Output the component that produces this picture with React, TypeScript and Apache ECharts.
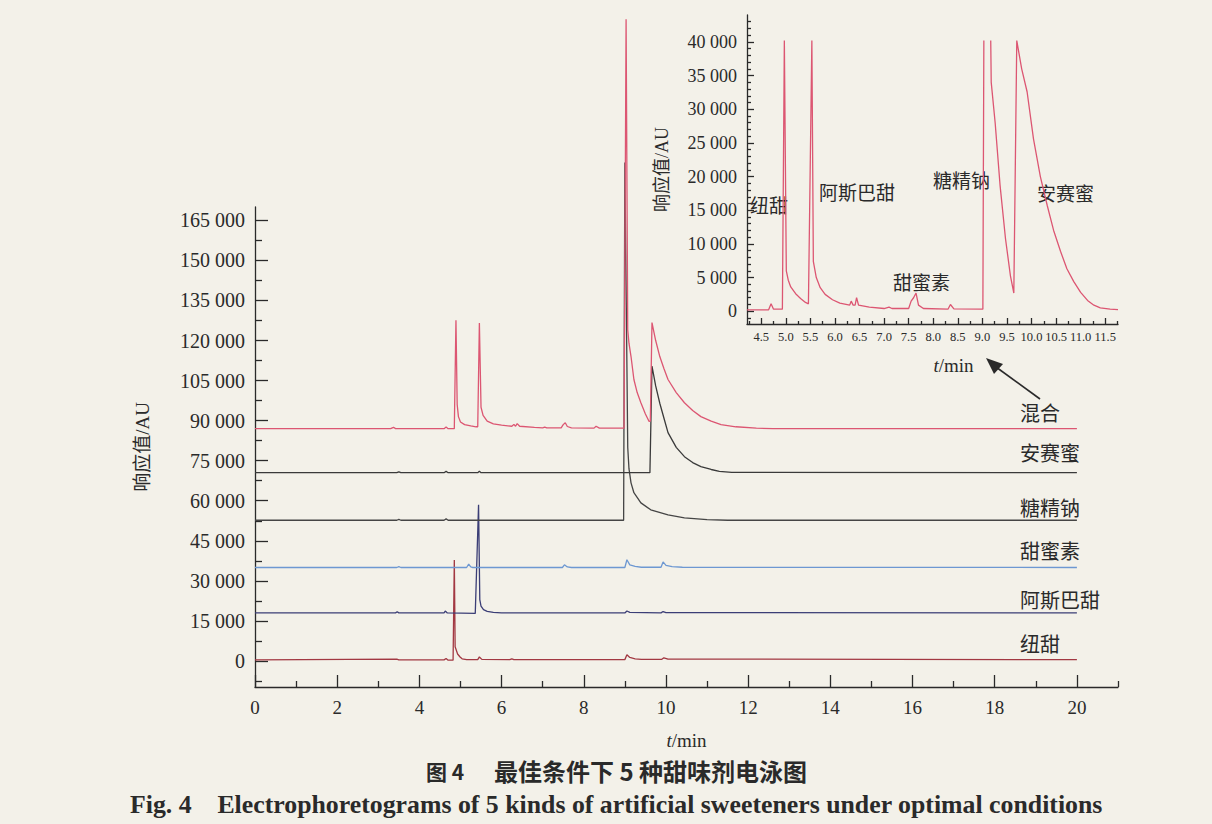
import React, { useEffect, useRef } from 'react';
import * as echarts from 'echarts';

// ---------- tick labels ----------
const mainXLabels = [0, 2, 4, 6, 8, 10, 12, 14, 16, 18, 20];
const mainXMinor = [1, 3, 5, 7, 9, 11, 13, 15, 17, 19, 21];
const mainYLabels = [0, 15000, 30000, 45000, 60000, 75000, 90000, 105000, 120000, 135000, 150000, 165000];
const mainYMinor = [-7500, 7500, 22500, 37500, 52500, 67500, 82500, 97500, 112500, 127500, 142500, 157500];
const insetXLabels = [4.5, 5, 5.5, 6, 6.5, 7, 7.5, 8, 8.5, 9, 9.5, 10, 10.5, 11, 11.5];
const insetXMinor = [4.25, 4.75, 5.25, 5.75, 6.25, 6.75, 7.25, 7.75, 8.25, 8.75, 9.25, 9.75, 10.25, 10.75, 11.25, 11.75];
const insetYLabels = [0, 5000, 10000, 15000, 20000, 25000, 30000, 35000, 40000];
const insetYMinor = [-1000, 1000, 2000, 3000, 4000, 6000, 7000, 8000, 9000, 11000, 12000, 13000, 14000, 16000, 17000, 18000, 19000, 21000, 22000, 23000, 24000, 26000, 27000, 28000, 29000, 31000, 32000, 33000, 34000, 36000, 37000, 38000, 39000, 41000, 42000, 43000];

// ---------- series names ----------
const seriesNames = ['纽甜', '阿斯巴甜', '甜蜜素', '糖精钠', '安赛蜜', '混合'];

// ---------- main electropherograms: [t/min, response/AU] ----------
const neotame = [
  [0, 400], [3.45, 700], [3.5, 400], [4.6, 400], [4.65, 900], [4.7, 300], [4.82, 300],
  [4.85, 37800], [4.87, 5300], [4.93, 2600], [4.99, 1500], [5.04, 800], [5.15, 500],
  [5.42, 500], [5.46, 1500], [5.52, 600], [6.2, 500], [6.25, 800], [6.3, 500],
  [9.0, 500], [9.05, 2300], [9.12, 1300], [9.25, 800], [9.4, 600], [9.9, 600],
  [9.95, 1200], [10.05, 700], [20, 500],
];
const aspartame = [
  [0, 18000], [3.42, 18000], [3.46, 18400], [3.5, 18000], [4.6, 18000], [4.63, 18700],
  [4.68, 18000], [5.36, 17800], [5.44, 58500], [5.47, 23000], [5.5, 20500], [5.56, 19200],
  [5.65, 18600], [5.8, 18200], [6.0, 18000], [9.0, 18000], [9.05, 18700], [9.12, 18200],
  [9.88, 18000], [9.93, 18500], [10.0, 18100], [20, 18000],
];
const cyclamate = [
  [0, 35000], [3.45, 35000], [3.5, 35300], [3.55, 35000], [5.15, 35000], [5.2, 36300],
  [5.25, 35200], [5.3, 35000], [7.48, 35000], [7.53, 36000], [7.6, 35200], [7.7, 35000],
  [9.0, 35000], [9.05, 37900], [9.12, 36000], [9.25, 35400], [9.4, 35100], [9.88, 35100],
  [9.93, 37100], [10.0, 35800], [10.15, 35300], [10.4, 35100], [20, 35000],
];
const saccharin = [
  [0, 52700], [3.45, 52700], [3.5, 53000], [3.55, 52700], [4.6, 52700], [4.65, 53200],
  [4.7, 52700], [8.97, 52700], [9.0, 186700], [9.07, 80000], [9.1, 72000], [9.15, 66700],
  [9.22, 63000], [9.39, 59200], [9.63, 56600], [10.05, 54700], [10.45, 53600], [11.0, 52900],
  [11.5, 52700], [20, 52700],
];
const acesulfame = [
  [0, 70500], [3.45, 70500], [3.5, 70800], [3.55, 70500], [4.6, 70500], [4.65, 71000],
  [4.7, 70500], [5.42, 70500], [5.46, 71000], [5.5, 70500], [9.61, 70500], [9.66, 110400],
  [9.75, 103000], [9.85, 96500], [9.95, 91000], [10.05, 85500], [10.25, 80000], [10.45, 76500],
  [10.65, 74300], [10.85, 72800], [11.1, 71700], [11.3, 71000], [11.6, 70600], [20, 70500],
];
const mixture = [
  [0, 87000], [3.3, 87000], [3.37, 87500], [3.42, 87000], [4.6, 87000], [4.65, 87600],
  [4.7, 87000], [4.85, 87000], [4.89, 127600], [4.92, 96000], [4.95, 91500], [5.0, 89500],
  [5.1, 88500], [5.25, 88000], [5.38, 87700], [5.42, 87700], [5.46, 126600], [5.5, 95000],
  [5.55, 92000], [5.65, 89800], [5.8, 88800], [6.0, 88300], [6.25, 87900], [6.3, 88600],
  [6.34, 87900], [6.38, 88900], [6.44, 87900], [6.8, 87500], [7.0, 87300], [7.05, 87600],
  [7.1, 87300], [7.45, 87300], [7.5, 88500], [7.55, 89200], [7.6, 87800], [7.7, 87300],
  [8.25, 87200], [8.3, 87900], [8.38, 87200], [8.98, 87200], [9.03, 240300], [9.07, 124000],
  [9.1, 119000], [9.15, 114000], [9.22, 105400], [9.3, 100500], [9.39, 96700], [9.5, 92500],
  [9.59, 89700], [9.62, 89800], [9.66, 126700], [9.75, 120000], [9.85, 114000], [9.95, 109500],
  [10.05, 105400], [10.25, 100500], [10.45, 96700], [10.65, 93800], [10.85, 91500],
  [11.1, 89800], [11.34, 88500], [11.7, 87700], [12.2, 87200], [12.6, 87000], [20, 87000],
];

// ---------- inset (mixture, zoomed) ----------
const insetMixture = [
  [4.21, 200], [4.65, 200], [4.7, 1100], [4.75, 300], [4.93, 300], [4.97, 40200],
  [5.01, 6000], [5.05, 4600], [5.1, 3600], [5.2, 2600], [5.3, 1900], [5.4, 1300],
  [5.46, 1100], [5.53, 40200], [5.56, 7400], [5.62, 5000], [5.7, 3500], [5.8, 2500],
  [5.95, 1700], [6.1, 1200], [6.3, 900], [6.33, 1500], [6.37, 900], [6.41, 900],
  [6.44, 2000], [6.48, 900], [6.7, 600], [7.0, 400], [7.1, 600], [7.16, 400],
  [7.5, 400], [7.55, 1500], [7.6, 2000], [7.65, 2700], [7.7, 900], [7.8, 400],
  [8.3, 300], [8.35, 1000], [8.42, 350], [9.01, 300], [9.03, 40200], [9.08, null],
  [9.17, 40200], [9.18, 34000], [9.26, 28000], [9.36, 18700], [9.47, 10800], [9.57, 5300],
  [9.64, 2700], [9.7, 40200], [9.8, 36000], [9.91, 32600], [10.04, 25600], [10.18, 20000],
  [10.32, 15700], [10.45, 12000], [10.59, 8900], [10.72, 6300], [10.86, 4400], [11.0, 2800],
  [11.14, 1600], [11.27, 900], [11.4, 500], [11.6, 300], [11.76, 250],
];

const seriesColors = ['#a23842', '#3b3e76', '#6d98d2', '#454545', '#3a3a3a', '#dc5672'];

const SERIF = "'Liberation Serif', 'Noto Sans CJK SC', serif";
const INK = '#2a2a2a';

const spaced = (v: number) => String(v).replace(/\B(?=(\d{3})+(?!\d))/g, ' ');

export default function App() {
  const ref = useRef<HTMLDivElement>(null);

  useEffect(() => {
    if (!ref.current) return;
    const chart = echarts.init(ref.current, undefined, { renderer: 'svg' });
    const axisLine = { onZero: false, lineStyle: { color: INK, width: 1.3 } };
    const tickStyle = { color: INK, width: 1.3 };

    const mainData = [neotame, aspartame, cyclamate, saccharin, acesulfame, mixture];

    const option: any = {
      animation: false,
      backgroundColor: 'transparent',
      textStyle: { fontFamily: SERIF, color: INK },
      grid: [
        { left: 255, top: 207, width: 863, height: 480 },
        { left: 747, top: 15, width: 371, height: 309 },
      ],
      xAxis: [
        {
          type: 'value', gridIndex: 0, position: 'bottom', min: 0, max: 21,
          axisLine,
          axisTick: { inside: true, length: 12, customValues: mainXLabels, lineStyle: tickStyle },
          axisLabel: { customValues: mainXLabels, fontSize: 19, color: INK, margin: 11, fontFamily: SERIF, hideOverlap: false },
          splitLine: { show: false },
          name: '{i|t}/min', nameLocation: 'middle', nameGap: 44,
          nameTextStyle: {
            fontSize: 19, color: INK, fontFamily: SERIF,
            rich: { i: { fontStyle: 'italic', fontSize: 19, fontFamily: SERIF, color: INK } },
          },
        },
        {
          type: 'value', gridIndex: 0, position: 'bottom', min: 0, max: 21,
          axisLine: { show: false, onZero: false },
          axisTick: { inside: true, length: 6, customValues: mainXMinor, lineStyle: tickStyle },
          axisLabel: { show: false }, splitLine: { show: false },
        },
        {
          type: 'value', gridIndex: 1, position: 'bottom', min: 4.21, max: 11.76,
          axisLine,
          axisTick: { inside: true, length: 6, customValues: insetXLabels, lineStyle: tickStyle },
          axisLabel: {
            customValues: insetXLabels, fontSize: 12.5, color: INK, margin: 7, fontFamily: SERIF,
            showMaxLabel: true, showMinLabel: true, hideOverlap: false,
            formatter: (v: number) => v.toFixed(1),
          },
          splitLine: { show: false },
          name: '{i|t}/min', nameLocation: 'middle', nameGap: 32,
          nameTextStyle: {
            fontSize: 19, color: INK, fontFamily: SERIF, padding: [0, 0, 0, 42],
            rich: { i: { fontStyle: 'italic', fontSize: 19, fontFamily: SERIF, color: INK } },
          },
        },
        {
          type: 'value', gridIndex: 1, position: 'bottom', min: 4.21, max: 11.76,
          axisLine: { show: false, onZero: false },
          axisTick: { inside: true, length: 3, customValues: insetXMinor, lineStyle: tickStyle },
          axisLabel: { show: false }, splitLine: { show: false },
        },
      ],
      yAxis: [
        {
          type: 'value', gridIndex: 0, position: 'left', min: -9750, max: 170000,
          axisLine: { show: true, ...axisLine },
          axisTick: { show: true, inside: true, length: 13, customValues: mainYLabels, lineStyle: tickStyle },
          axisLabel: { customValues: mainYLabels, fontSize: 20, color: INK, margin: 10, fontFamily: SERIF, formatter: spaced, hideOverlap: false },
          splitLine: { show: false },
          name: '响应值/AU', nameLocation: 'middle', nameRotate: 90, nameGap: 103,
          nameTextStyle: { fontSize: 19, color: INK, fontFamily: SERIF },
        },
        {
          type: 'value', gridIndex: 0, position: 'left', min: -9750, max: 170000,
          axisLine: { show: false, onZero: false },
          axisTick: { show: true, inside: true, length: 7, customValues: mainYMinor, lineStyle: tickStyle },
          axisLabel: { show: false }, splitLine: { show: false },
        },
        {
          type: 'value', gridIndex: 1, position: 'left', min: -1900, max: 44000,
          axisLine: { show: true, ...axisLine },
          axisTick: { show: true, inside: true, length: 7, customValues: insetYLabels, lineStyle: tickStyle },
          axisLabel: { customValues: insetYLabels, fontSize: 18, color: INK, margin: 10, fontFamily: SERIF, formatter: spaced, hideOverlap: false },
          splitLine: { show: false },
          name: '响应值/AU', nameLocation: 'middle', nameRotate: 90, nameGap: 76,
          nameTextStyle: { fontSize: 18, color: INK, fontFamily: SERIF },
        },
        {
          type: 'value', gridIndex: 1, position: 'left', min: -1900, max: 44000,
          axisLine: { show: false, onZero: false },
          axisTick: { show: true, inside: true, length: 4, customValues: insetYMinor, lineStyle: tickStyle },
          axisLabel: { show: false }, splitLine: { show: false },
        },
      ],
      series: [
        ...mainData.map((d, i) => ({
          name: seriesNames[i], type: 'line', xAxisIndex: 0, yAxisIndex: 0,
          data: d, showSymbol: false, symbol: 'none', clip: false,
          lineStyle: { color: seriesColors[i], width: 1.3 },
        })),
        {
          name: '混合(局部)', type: 'line', xAxisIndex: 2, yAxisIndex: 2,
          data: insetMixture, showSymbol: false, symbol: 'none', clip: true, connectNulls: false,
          lineStyle: { color: seriesColors[5], width: 1.3 },
        },
      ],
      graphic: [
        // curve labels (main)
        ...[
          ['混合', 415], ['安赛蜜', 455], ['糖精钠', 510], ['甜蜜素', 553], ['阿斯巴甜', 602], ['纽甜', 646],
        ].map(([t, y]) => ({
          type: 'text', left: 1020, top: (y as number) - 11,
          style: { text: t as string, fontSize: 20, fill: INK, fontFamily: SERIF },
        })),
        // inset labels
        ...[
          ['纽甜', 750, 197], ['阿斯巴甜', 819, 184], ['糖精钠', 933, 172], ['安赛蜜', 1037, 185], ['甜蜜素', 893, 274],
        ].map(([t, x, y]) => ({
          type: 'text', left: x as number, top: y as number,
          style: { text: t as string, fontSize: 19, fill: INK, fontFamily: SERIF },
        })),
        // arrow
        {
          type: 'line', shape: { x1: 1040, y1: 399, x2: 996, y2: 367 },
          style: { stroke: INK, lineWidth: 1.6 },
        },
        {
          type: 'polygon', shape: { points: [[986, 358], [1003, 364], [994, 374]] },
          style: { fill: INK },
        },
        // captions
        {
          type: 'text', left: 426, top: 760,
          style: { text: '图 4', fontSize: 21, fontWeight: 'bold', fill: INK, fontFamily: "'Noto Sans CJK SC', sans-serif" },
        },
        {
          type: 'text', left: 494, top: 758,
          style: { text: '最佳条件下 5 种甜味剂电泳图', fontSize: 24, fontWeight: 'bold', fill: INK, fontFamily: "'Noto Sans CJK SC', sans-serif" },
        },
        {
          type: 'text', left: 130, top: 791,
          style: { text: 'Fig. 4    Electrophoretograms of 5 kinds of artificial sweeteners under optimal conditions', fontSize: 25.8, fontWeight: 'bold', fill: INK, fontFamily: "'Liberation Serif', serif" },
        },
      ],
    };

    chart.setOption(option);
    return () => chart.dispose();
  }, []);

  return (
    <div style={{ position: 'fixed', left: 0, top: 0, width: 1212, height: 824, background: '#f3f1e9' }}>
      <div ref={ref} style={{ width: 1212, height: 824 }} />
    </div>
  );
}
